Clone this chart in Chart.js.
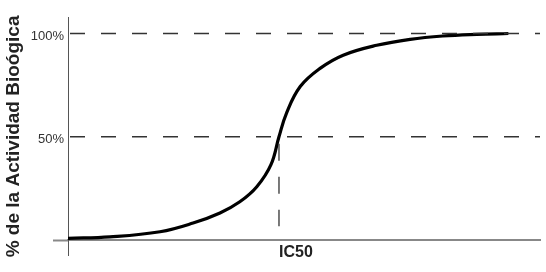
<!DOCTYPE html>
<html>
<head>
<meta charset="utf-8">
<script src="https://cdn.jsdelivr.net/npm/chart.js@4"></script>
<style>
  body { margin: 0; background: #fff; }
  #wrap { width: 546px; height: 272px; }
</style>
</head>
<body>
<div id="wrap"><canvas id="grafico"></canvas></div>
<script>
// concentracion (unidades arbitrarias) y % de actividad
const concentraciones = [0, 8.9, 19.5, 26.5, 32.2, 36.4, 40.0, 43.0, 44.7, 46.3, 49.2, 53.4, 58.3, 65.4, 72.5, 79.4, 86.6, 93.3];
const actividad = [0.8, 1.5, 4.0, 8.2, 13.1, 18.5, 25.8, 36.5, 50, 61.5, 74.3, 83.1, 89.5, 94.3, 97.2, 98.8, 99.6, 100];
const ic50 = 44.7;
const ic50Texto = "IC50";
const nivelesRef = [50, 100];
const finRef = 100;
const finVertical = 6.6;
const yTicks = [0, 50, 100];
const tituloY = "% de la Actividad Bioógica   ";

window.onload = () => {
    let datos = [];
    for (let i = 0; i < concentraciones.length; i++) {
        datos.push({x: concentraciones[i], y: actividad[i]});
    }

    let datasets = [];
    // lineas de referencia punteadas
    for (let n of nivelesRef) {
        datasets.push({
            data: [{x: 0, y: n}, {x: finRef, y: n}],
            borderColor: '#333',
            borderWidth: 1.3,
            borderDash: [15, 16],
            borderDashOffset: -2,
            pointRadius: 0
        });
    }
    datasets.push({
        data: [{x: ic50, y: 50}, {x: ic50, y: finVertical}],
        borderColor: '#333',
        borderWidth: 1.3,
        borderDash: [17, 16],
        borderDashOffset: 26,
        pointRadius: 0
    });
    // curva dosis-respuesta
    datasets.push({
        data: datos,
        borderColor: '#000',
        borderWidth: 3.2,
        tension: 0.4,
        pointRadius: 0
    });

    let ctx = document.getElementById("grafico").getContext('2d');
    new Chart(ctx, {
        type: 'line',
        data: { datasets: datasets },
        options: {
            responsive: true,
            maintainAspectRatio: false,
            animation: false,
            layout: { padding: { top: 17, right: 6, left: 0, bottom: 0 } },
            plugins: {
                legend: { display: false },
                tooltip: { enabled: false }
            },
            scales: {
                x: {
                    type: 'linear',
                    min: 0,
                    max: 100,
                    afterBuildTicks: (scale) => {
                        scale.ticks = [{value: 0}, {value: ic50}];
                    },
                    afterFit: (scale) => { scale.height = 32; },
                    border: { color: '#888', width: 2 },
                    grid: {
                        drawOnChartArea: false,
                        tickLength: 16,
                        tickWidth: 1,
                        tickColor: (c) => c.tick && c.tick.value === 0 ? '#555' : 'rgba(0,0,0,0)'
                    },
                    ticks: {
                        align: 'start',
                        padding: -13,
                        maxRotation: 0,
                        color: '#222',
                        font: { family: 'Liberation Sans', size: 16, weight: 'bold' },
                        callback: (v) => v === 0 ? '' : ic50Texto
                    }
                },
                y: {
                    min: 0,
                    max: 108,
                    afterBuildTicks: (scale) => {
                        scale.ticks = yTicks.map(v => ({value: v}));
                    },
                    afterFit: (scale) => { scale.width = 68; },
                    border: { color: '#555', width: 1 },
                    grid: {
                        drawOnChartArea: false,
                        tickLength: 15,
                        tickWidth: 2,
                        tickColor: (c) => c.tick && c.tick.value === 0 ? '#888' : 'rgba(0,0,0,0)'
                    },
                    ticks: {
                        padding: -11,
                        labelOffset: 3,
                        color: '#333',
                        font: { family: 'Liberation Sans', size: 13 },
                        callback: (v) => v === 0 ? '' : v + '%'
                    },
                    title: {
                        display: true,
                        text: tituloY,
                        color: '#222',
                        padding: { top: 2, bottom: 0 },
                        font: { family: 'Liberation Sans', size: 19, weight: 'bold' }
                    }
                }
            }
        }
    });
}
</script>
</body>
</html>
